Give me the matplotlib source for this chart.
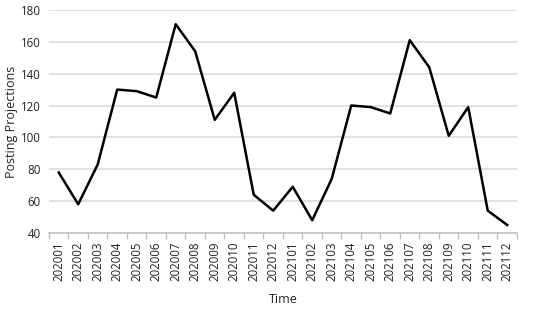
import numpy as np
import matplotlib
matplotlib.use("Agg")
import matplotlib.pyplot as plt

# Monthly posting projections, 2020-2021
months = ["202001", "202002", "202003", "202004", "202005", "202006",
          "202007", "202008", "202009", "202010", "202011", "202012",
          "202101", "202102", "202103", "202104", "202105", "202106",
          "202107", "202108", "202109", "202110", "202111", "202112"]
projections = [78, 58, 83, 130, 129, 125, 171, 154, 111, 128, 64, 54,
               69, 48, 74, 120, 119, 115, 161, 144, 101, 119, 54, 45]
y_ticks = [40, 60, 80, 100, 120, 140, 160, 180]

plt.rcParams["font.family"] = ["Open Sans", "DejaVu Sans"]

fig = plt.figure(figsize=(5.5, 3.09), dpi=100)
ax = fig.add_axes([0.089, 0.246, 0.851, 0.722])

x = np.arange(len(months))
ax.plot(x, projections, color="black", linewidth=1.8, zorder=3)

ax.set_xlim(-0.5, len(months) - 0.5)
ax.set_ylim(y_ticks[0], y_ticks[-1])
ax.set_yticks(y_ticks)
ax.yaxis.grid(True, color="#d9d9d9", linewidth=1.1)
ax.set_axisbelow(True)

ax.set_xticks(x)
ax.set_xticklabels(months, rotation=90, fontsize=8.3, color="#222222")
ax.set_xticks(np.arange(-0.5, len(months)), minor=True)
ax.tick_params(axis="x", which="major", length=0, pad=6)
ax.tick_params(axis="x", which="minor", length=4, color="#bfbfbf", width=1)
ax.tick_params(axis="y", length=0, labelsize=8.3, labelcolor="#222222", pad=6)

for side in ["left", "right", "top"]:
    ax.spines[side].set_visible(False)
ax.spines["bottom"].set_color("#bfbfbf")
ax.spines["bottom"].set_linewidth(1.1)

ax.set_xlabel("Time", fontsize=9, color="#222222", labelpad=9)
ax.set_ylabel("Posting Projections", fontsize=9, color="#222222", labelpad=2)

fig.savefig("out.png", dpi=100)
